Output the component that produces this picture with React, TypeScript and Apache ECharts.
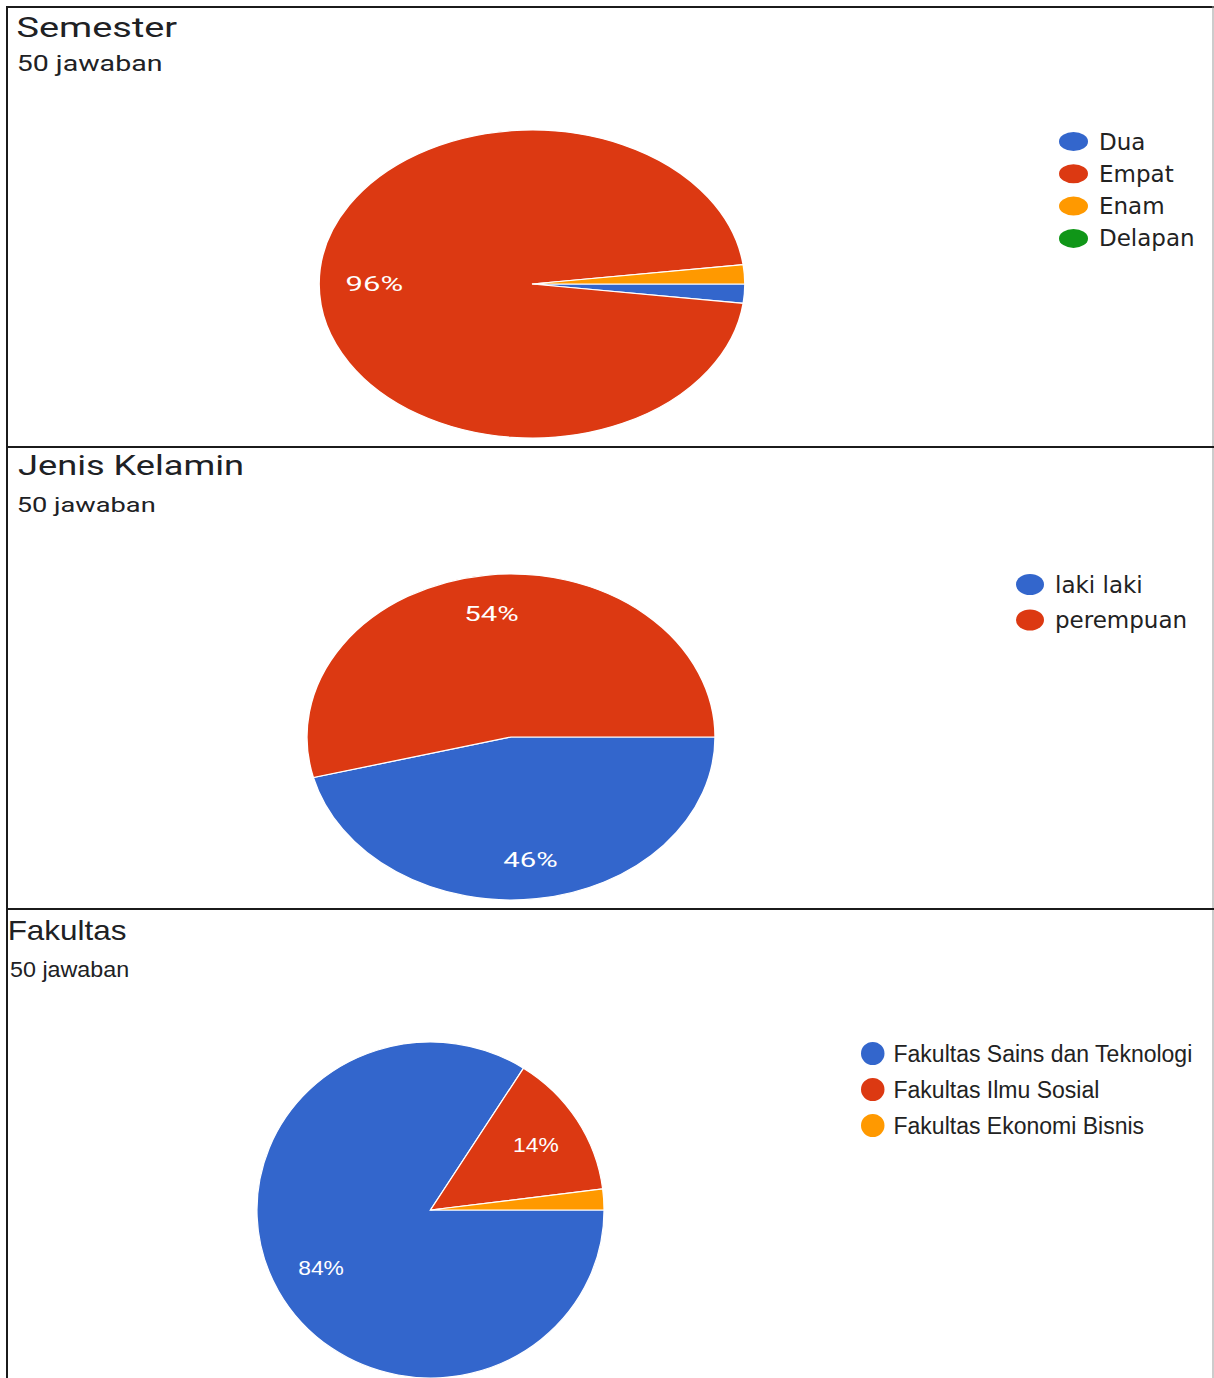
import React, { useEffect, useRef } from "react";
import * as echarts from "echarts";

// ---------- data ----------
const semesterCategories = ["Dua", "Empat", "Enam", "Delapan"];
const semesterValues = [1, 48, 1, 0];
const genderCategories = ["laki laki", "perempuan"];
const genderValues = [23, 27];
const facultyCategories = [
  "Fakultas Sains dan Teknologi",
  "Fakultas Ilmu Sosial",
  "Fakultas Ekonomi Bisnis",
];
const facultyValues = [42, 7, 1];
const panelTitles = ["Semester", "Jenis Kelamin", "Fakultas"];
const responseCounts = [50, 50, 50];
const sliceColors = ["#3366cc", "#dc3912", "#ff9900", "#109618"];

// ---------- layout ----------
const panelLayouts = [
  {
    cx: 532, cy: 284, rx: 213, ry: 154, labelR: 0.74,
    titleFont: "Roboto", titleSize: 27, titleX: 18, titleBase: 37, titleW: 159,
    subSize: 22, subBase: 71, subW: 143,
    labelFont: "Roboto", labelSize: 20, labelW: 55,
    legend: { left: 1059, top: 130, w: 29, h: 19, gap: 9.3, font: "DejaVu Sans", size: 23, pad: 6 },
  },
  {
    cx: 511, cy: 737, rx: 204, ry: 163, labelR: 0.76,
    titleFont: "Roboto", titleSize: 27, titleX: 18, titleBase: 475, titleW: 225,
    subSize: 21, subBase: 511.7, subW: 137,
    labelFont: "Roboto", labelSize: 20, labelW: 52,
    legend: { left: 1016, top: 573, w: 28, h: 21, gap: 12.5, font: "DejaVu Sans", size: 23, pad: 6 },
  },
  {
    cx: 430.5, cy: 1210, rx: 173.5, ry: 168, labelR: 0.72,
    titleFont: "Liberation Sans", titleSize: 27, titleX: 10, titleBase: 939.3, titleW: 116,
    subSize: 22, subBase: 977.3, subW: 118,
    labelFont: "Liberation Sans", labelSize: 21, labelW: 45,
    legend: { left: 861, top: 1042, w: 23.5, h: 23, gap: 13, font: "Liberation Sans", size: 23, pad: 4 },
  },
];

const ELLIPSE_ICON = "path://M0,10A10,10,0,1,1,20,10A10,10,0,1,1,0,10Z";

function inkMetrics(text: string, font: string) {
  const ctx = document.createElement("canvas").getContext("2d")!;
  ctx.font = font;
  const m = ctx.measureText(text);
  const left = m.actualBoundingBoxLeft || 0;
  const right = m.actualBoundingBoxRight || m.width;
  return { left, width: left + right };
}

function fittedText(text: string, family: string, size: number, xLeft: number, baseline: number, targetW: number, color: string) {
  const font = `${size}px "${family}"`;
  const m = inkMetrics(text, font);
  const sx = m.width > 0 ? targetW / m.width : 1;
  return {
    type: "text",
    x: xLeft + m.left * sx,
    y: baseline - 0.345 * size,
    scaleX: sx,
    style: {
      text,
      fill: color,
      fontSize: size,
      fontFamily: family,
      align: "left",
      verticalAlign: "middle",
    },
  };
}

function buildPanelSeries(categories: string[], values: number[], lay: any) {
  const total = values.reduce((a, b) => a + b, 0);
  const lm = inkMetrics("88%", `${lay.labelSize}px "${lay.labelFont}"`);
  const labelScale = lm.width > 0 ? lay.labelW / lm.width : 1;
  let cum = 0;
  return categories.map((name, i) => {
    const start = cum;
    cum += values[i];
    return {
      type: "custom",
      name,
      coordinateSystem: "none",
      itemStyle: { color: sliceColors[i] },
      data: [[values[i], start, total]],
      renderItem: (params: any, api: any) => {
        const v = api.value(0);
        const s = api.value(1);
        const t = api.value(2);
        if (!v || !t) return null;
        const a0 = (s / t) * Math.PI * 2;
        const a1 = ((s + v) / t) * Math.PI * 2;
        const mid = (a0 + a1) / 2;
        const pct = Math.round((v / t) * 100);
        const children: any[] = [
          {
            type: "sector",
            x: lay.cx,
            y: lay.cy,
            scaleX: lay.rx / lay.ry,
            shape: { cx: 0, cy: 0, r: lay.ry, r0: 0, startAngle: a0, endAngle: a1, clockwise: true },
            style: { fill: api.visual("color"), stroke: "#ffffff", lineWidth: 1.2 },
          },
        ];
        if (pct >= 5) {
          children.push({
            type: "text",
            x: lay.cx + lay.labelR * lay.rx * Math.cos(mid),
            y: lay.cy + lay.labelR * lay.ry * Math.sin(mid),
            scaleX: labelScale,
            z2: 10,
            style: {
              text: pct + "%",
              fill: "#ffffff",
              fontSize: lay.labelSize,
              fontFamily: lay.labelFont,
              align: "center",
              verticalAlign: "middle",
            },
          });
        }
        return { type: "group", children };
      },
    };
  });
}

export default function App() {
  const ref = useRef<HTMLDivElement>(null);
  useEffect(() => {
    if (!ref.current) return;
    const chart = echarts.init(ref.current, undefined, { renderer: "svg" });
    const cats = [semesterCategories, genderCategories, facultyCategories];
    const vals = [semesterValues, genderValues, facultyValues];

    const series: any[] = [];
    const legends: any[] = [];
    const graphics: any[] = [];

    panelLayouts.forEach((lay, p) => {
      series.push(...buildPanelSeries(cats[p], vals[p], lay));
      legends.push({
        data: cats[p],
        orient: "vertical",
        left: lay.legend.left,
        top: lay.legend.top,
        itemWidth: lay.legend.w,
        itemHeight: lay.legend.h,
        itemGap: lay.legend.gap,
        icon: ELLIPSE_ICON,
        symbolKeepAspect: false,
        padding: 0,
        selectedMode: false,
        textStyle: {
          color: "#222222",
          fontFamily: lay.legend.font,
          fontSize: lay.legend.size,
          lineHeight: lay.legend.h,
          padding: [0, 0, 0, lay.legend.pad],
        },
      });
      graphics.push(
        fittedText(panelTitles[p], lay.titleFont, lay.titleSize, lay.titleX, lay.titleBase, lay.titleW, "#202124")
      );
      graphics.push(
        fittedText(`${responseCounts[p]} jawaban`, lay.titleFont, lay.subSize, lay.titleX, lay.subBase, lay.subW, "#202124")
      );
    });

    // panel frames
    const dark = "#1b1b1b";
    graphics.push(
      { type: "rect", shape: { x: 6, y: 6, width: 1208, height: 2 }, style: { fill: dark } },
      { type: "rect", shape: { x: 6, y: 6, width: 2, height: 1372 }, style: { fill: dark } },
      { type: "rect", shape: { x: 1212.5, y: 6, width: 1, height: 903 }, style: { fill: "#9a9a9a" } },
      { type: "rect", shape: { x: 1212.5, y: 909, width: 1, height: 469 }, style: { fill: "#9a9a9a" } },
      { type: "rect", shape: { x: 6, y: 446, width: 1208, height: 2 }, style: { fill: dark } },
      { type: "rect", shape: { x: 6, y: 908, width: 1208, height: 2 }, style: { fill: dark } }
    );

    chart.setOption({
      animation: false,
      backgroundColor: "#ffffff",
      legend: legends,
      graphic: graphics,
      series,
    });
    return () => chart.dispose();
  }, []);
  return (
    <div
      ref={ref}
      style={{ position: "absolute", left: 0, top: 0, width: 1214, height: 1378 }}
    />
  );
}
